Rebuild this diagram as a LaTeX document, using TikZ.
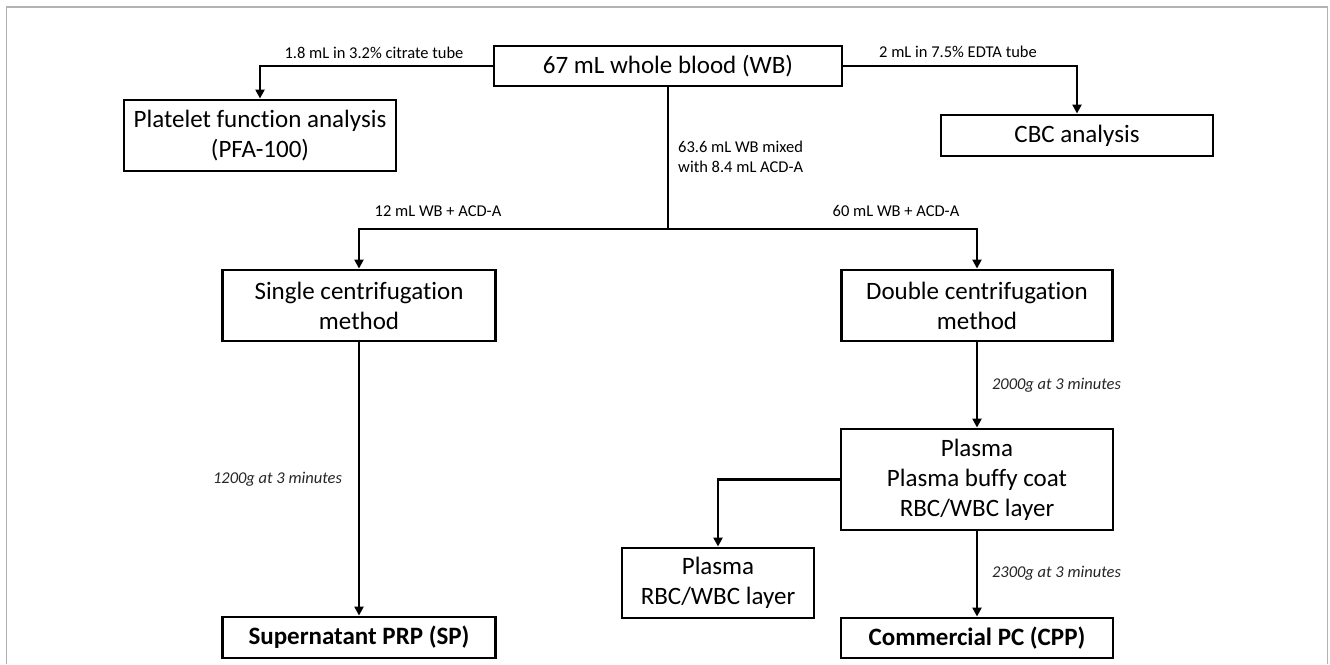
\documentclass[tikz,border=0pt]{standalone}
\usepackage{fontspec}
\setmainfont{Carlito}[RawFeature={-liga;-clig;-dlig}]
\usetikzlibrary{arrows.meta}
\begin{document}
\begin{tikzpicture}[x=1pt,y=-1pt,
  box/.style={draw=black,line width=2.9pt,fill=white,inner sep=0pt,align=center,
    font=\fontsize{25}{30}\selectfont},
  bbox/.style={box,font=\fontsize{25}{30}\selectfont\bfseries},
  conn/.style={draw=black,line width=2.9pt},
  arr/.style={conn,-{Triangle[length=9pt,width=9pt]}},
  lbl/.style={inner sep=0pt,font=\fontsize{16.5}{20}\selectfont},
  ilbl/.style={lbl,font=\fontsize{16.5}{20}\selectfont\itshape,text=black!85}]
\useasboundingbox (0,0) rectangle (1330,664);
\draw[draw=black!30,line width=1.5pt] (6.5,664) -- (6.5,7) -- (1327.7,7) -- (1327.7,664);

\node[box,minimum width=348pt,minimum height=40pt] (wb) at (668,66) {67 mL whole blood (WB)};
\node[box,minimum width=272pt,minimum height=71pt] (pfa) at (260,135.5) {Platelet function analysis\\(PFA-100)};
\node[box,minimum width=272pt,minimum height=41pt] (cbc) at (1077,135.5) {CBC analysis};
\node[box,minimum width=273pt,minimum height=71pt] (single) at (359,305.5) {Single centrifugation\\method};
\node[box,minimum width=271pt,minimum height=71pt] (double) at (977,305.5) {Double centrifugation\\method};
\node[box,minimum width=272pt,minimum height=101pt] (p3) at (977,479.5) {Plasma\\Plasma buffy coat\\RBC/WBC layer};
\node[box,minimum width=192pt,minimum height=70pt] (p2) at (718,583) {Plasma\\RBC/WBC layer};
\node[bbox,minimum width=273pt,minimum height=41pt] (sp) at (359,637.5) {Supernatant PRP (SP)};
\node[bbox,minimum width=272pt,minimum height=40pt] (cpp) at (977,638) {Commercial PC (CPP)};

\coordinate (split) at (668,229);

\draw[arr] (wb.west) -| (pfa.north);
\draw[arr] (wb.east) -| (cbc.north);
\draw[conn] (wb.south) -- (split);
\draw[arr] (split) -| (single.north);
\draw[arr] (split) -| (double.north);
\draw[arr] (single.south) -- (sp.north);
\draw[arr] (double.south) -- (p3.north);
\draw[arr] (p3.west) -| (p2.north);
\draw[arr] (p3.south) -- (cpp.north);

\node[lbl] (l1) at (374,53) {1.8 mL in 3.2\% citrate tube};
\node[lbl] (l2) at (958,52) {2 mL in 7.5\% EDTA tube};
\node[lbl,anchor=west,align=left] (l3) at (678,157) {63.6 mL WB mixed\\with 8.4 mL ACD-A};
\node[lbl] (l4) at (438,211) {12 mL WB + ACD-A};
\node[lbl] (l5) at (896,211) {60 mL WB + ACD-A};
\node[ilbl] (l6) at (277.5,479) {1200g at 3 minutes};
\node[ilbl] (l7) at (1056.5,385) {2000g at 3 minutes};
\node[ilbl] (l8) at (1056.5,573) {2300g at 3 minutes};
\end{tikzpicture}
\end{document}
